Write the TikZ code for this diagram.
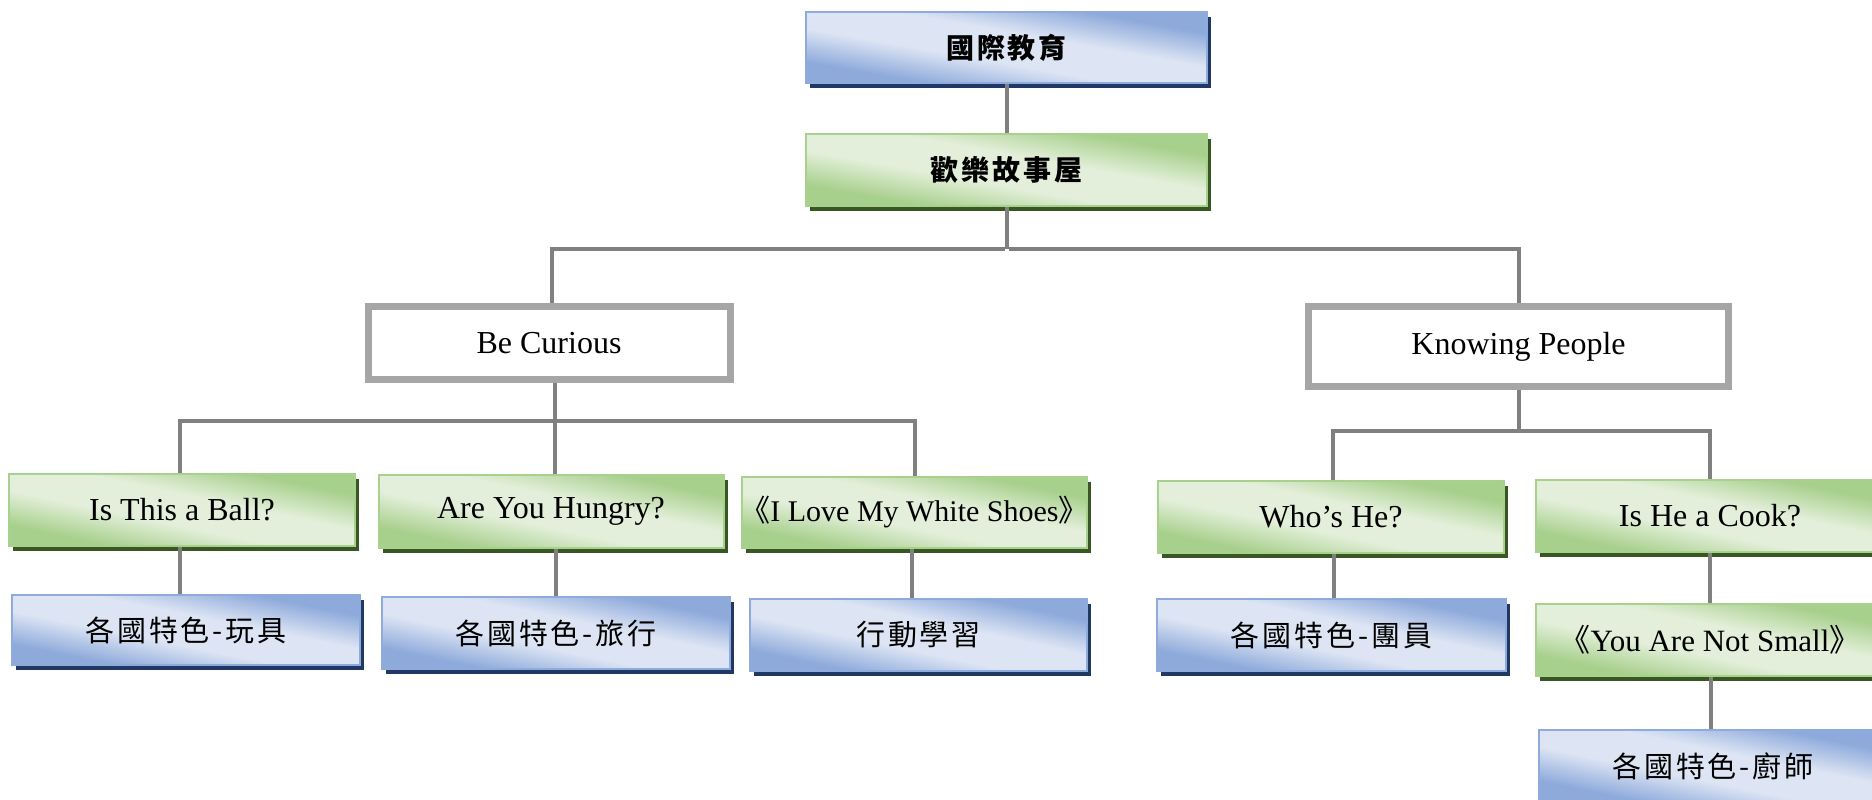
\documentclass[tikz,border=0pt]{standalone}
\usepackage{fontspec}
\setmainfont{Liberation Serif}
\newfontfamily\cjk[LetterSpace=10]{Noto Sans CJK TC}
\newfontfamily\cjkbr{Noto Sans CJK TC}
\definecolor{bdark}{HTML}{8EAADB}
\definecolor{blight}{HTML}{DDE5F4}
\definecolor{bborder}{HTML}{8FAADC}
\definecolor{bshadow}{HTML}{203864}
\definecolor{gdark}{HTML}{A8D08D}
\definecolor{glight}{HTML}{E3EFDA}
\definecolor{gborder}{HTML}{A9D18E}
\definecolor{gshadow}{HTML}{385723}
\definecolor{conncol}{HTML}{808080}
\definecolor{framecol}{HTML}{A6A6A6}
\pgfdeclarehorizontalshading{bshade}{100bp}{color(0bp)=(bdark); color(25bp)=(bdark); color(42bp)=(blight); color(58bp)=(blight); color(75bp)=(bdark); color(100bp)=(bdark)}
\pgfdeclarehorizontalshading{gshade}{100bp}{color(0bp)=(gdark); color(25bp)=(gdark); color(42bp)=(glight); color(58bp)=(glight); color(75bp)=(gdark); color(100bp)=(gdark)}
\newcommand{\lbr}{{\cjkbr\kern-0.45em《}}
\newcommand{\rbr}{{\cjkbr》\kern-0.45em}}
\newcommand{\lat}{\fontsize{32}{36}\selectfont}
\newcommand{\ck}{\cjk\fontsize{29}{33}\selectfont}
\newcommand{\ckb}{\cjk\bfseries\fontsize{28}{32}\selectfont}
% #1 shading, #2 border, #3 shadow, #4 name, #5 x, #6 y, #7 w, #8 h, #9 text
\newcommand\shbox[9]{%
  \fill[#3] ({#5-#7/2+4},{#6-#8/2-5}) rectangle ({#5+#7/2+4},{#6+#8/2-5});
  \begin{scope}[transform canvas={shift={(#5,#6)}, xscale={#7/100}, yscale={#8/100}}]
    \shade[shading=#1, shading angle=45] (-50,-50) rectangle (50,50);
  \end{scope}
  \node[draw=#2, line width=2pt, minimum width=#7pt, minimum height=#8pt, inner sep=0pt] (#4) at (#5,#6) {#9};
}
\newcommand\bbox[6]{\shbox{bshade}{bborder}{bshadow}{#1}{#2}{#3}{#4}{#5}{#6}}
\newcommand\gbox[6]{\shbox{gshade}{gborder}{gshadow}{#1}{#2}{#3}{#4}{#5}{#6}}
\tikzset{
  framebox/.style={rectangle, inner sep=0pt, line width=7pt, draw=framecol, fill=white, font=\lat},
  conn/.style={draw=conncol, line width=4pt}
}
\begin{document}
\begin{tikzpicture}[x=1pt,y=1pt]
\useasboundingbox (0,0) rectangle (1872,-800);
\clip (0,0) rectangle (1872,-800);
\fill[white] (0,0) rectangle (1872,-800);
% level 0/1
\bbox{top}{1006.5}{-47.5}{401}{71}{\ckb 國際教育}
\gbox{story}{1006.5}{-170}{401}{72}{\ckb 歡樂故事屋}
% level 2
\node[framebox, minimum width=362pt, minimum height=73pt] (curious) at (549,-343) {Be Curious};
\node[framebox, minimum width=420pt, minimum height=80pt] (knowing) at (1518.5,-346.5) {Knowing People};
% level 3
\gbox{ball}{182}{-510}{346}{72}{\lat Is This a Ball?}
\gbox{hungry}{551}{-511.5}{345}{73}{\lat Are You Hungry?}
\gbox{shoes}{914.5}{-512.5}{345}{71}{\fontsize{30}{35}\selectfont\lbr I Love My White Shoes\rbr}
\gbox{who}{1331}{-517}{346}{72}{\lat Who’s He?}
\gbox{cook}{1710}{-516}{348}{72}{\lat Is He a Cook?}
% level 4
\bbox{toy}{186}{-630}{348}{70}{\ck 各國特色-玩具}
\bbox{travel}{556}{-633}{348}{72}{\ck 各國特色-旅行}
\bbox{action}{918.5}{-635}{337}{72}{\ck 行動學習}
\bbox{member}{1331.5}{-635}{349}{72}{\ck 各國特色-團員}
\gbox{small}{1710}{-640}{348}{72}{\fontsize{31}{36}\selectfont\lbr You Are Not Small\rbr}
\bbox{chef}{1713}{-766}{348}{72}{\ck 各國特色-廚師}
% connectors
\draw[conn] (top.south) -- (story.north);
\draw[conn] (story.south) -- ++(0,-42) coordinate (b1);
\draw[conn] ([xshift=-2pt]b1) -| ([xshift=3pt]curious.north);
\draw[conn] ([xshift=2pt]b1) -| (knowing.north);
\draw[conn] ([xshift=6pt]curious.south) -- ([xshift=6pt]curious.south |- hungry.north);
\coordinate (b2) at ([xshift=6pt,yshift=-38pt]curious.south);
\draw[conn] (b2) -| ([xshift=-2pt]ball.north);
\draw[conn] (b2) -| (shoes.north);
\draw[conn] (knowing.south) -- ++(0,-41) coordinate (b3);
\draw[conn] ([xshift=2pt]b3) -| ([xshift=2pt]who.north);
\draw[conn] ([xshift=-2pt]b3) -| (cook.north);
\draw[conn] ([xshift=-2pt]ball.south) -- ([xshift=-2pt]ball.south |- toy.north);
\draw[conn] (travel.north) -- (travel.north |- hungry.south);
\draw[conn] ([xshift=-3pt]shoes.south) -- ([xshift=-3pt]shoes.south |- action.north);
\draw[conn] ([xshift=3pt]who.south) -- ([xshift=3pt]who.south |- member.north);
\draw[conn] (cook.south) -- (small.north);
\draw[conn] ([xshift=1pt]small.south) -- ([xshift=1pt]small.south |- chef.north);
\end{tikzpicture}
\end{document}
